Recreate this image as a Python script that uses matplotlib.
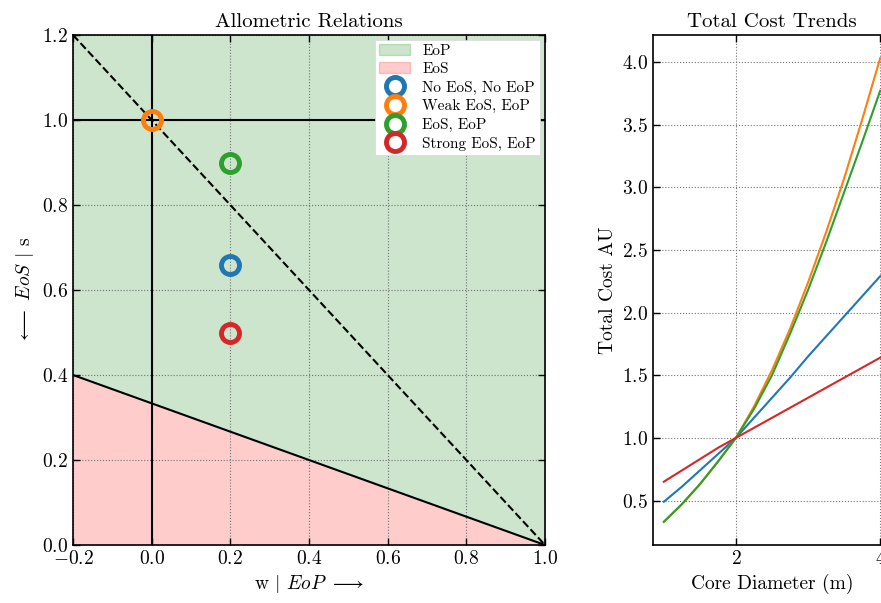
import numpy as np
import matplotlib
matplotlib.use("Agg")
import matplotlib.pyplot as plt
from matplotlib.patches import Patch
from matplotlib.lines import Line2D

plt.rcParams['font.family'] = 'serif'
plt.rcParams['font.serif'] = ['cmr10']
plt.rcParams['mathtext.fontset'] = 'cm'
plt.rcParams['axes.formatter.use_mathtext'] = True
plt.rcParams['axes.unicode_minus'] = True

# allometric points (w, s)
labels = ["No EoS, No EoP", "Weak EoS, EoP", "EoS, EoP", "Strong EoS, EoP"]
colors = ["tab:blue", "tab:orange", "tab:green", "tab:red"]
w_pts = [0.2, 0.0, 0.2, 0.2]
s_pts = [0.66, 1.0, 0.9, 0.5]

# boundary lines
w_line = [-0.2, 1.0]
eos_line = [0.4, 0.0]
dash_line = [1.2, 0.0]

# total cost curves
diam = [1.0, 1.25, 1.5, 1.75, 2.0, 2.25, 2.5, 2.75, 3.0, 3.25, 3.5, 3.75, 4.0]
cost_blue = [0.49, 0.61, 0.74, 0.87, 1.0, 1.16, 1.32, 1.48, 1.65, 1.81, 1.97, 2.13, 2.29]
cost_orange = [0.33, 0.47, 0.63, 0.81, 1.0, 1.25, 1.54, 1.87, 2.24, 2.64, 3.07, 3.54, 4.03]
cost_green = [0.33, 0.47, 0.63, 0.81, 1.0, 1.23, 1.50, 1.83, 2.18, 2.56, 2.96, 3.36, 3.77]
cost_red = [0.65, 0.74, 0.83, 0.92, 1.0, 1.08, 1.16, 1.24, 1.32, 1.40, 1.48, 1.56, 1.64]

fig = plt.figure(figsize=(8.81, 6.03), dpi=100)
ax1 = fig.add_axes([73/881, 1-545/603, 472/881, 510/603])
ax2 = fig.add_axes([653/881, 1-545/603, 238/881, 510/603])

for ax in (ax1, ax2):
    ax.tick_params(direction='in', top=True, right=True, labelsize=14, length=5, width=1)
    ax.grid(True, linestyle=':', color='0.45', lw=0.8)
    for sp in ax.spines.values():
        sp.set_linewidth(1.2)

# left panel
ax1.fill_between(w_line, eos_line, [1.2, 1.2], color='green', alpha=0.2, lw=0)
ax1.fill_between(w_line, [0, 0], eos_line, color='red', alpha=0.2, lw=0)
ax1.plot(w_line, eos_line, color='black', lw=1.5)
ax1.plot(w_line, dash_line, color='black', lw=1.5, ls='--')
ax1.axvline(0, color='black', lw=1.5)
ax1.axhline(1.0, color='black', lw=1.5)
for w, s, c in zip(w_pts, s_pts, colors):
    ax1.plot(w, s, 'o', mfc='none', mec=c, ms=13, mew=3.5, zorder=5)
ax1.set_xlim(-0.2, 1.0)
ax1.set_ylim(0, 1.2)
ax1.set_xticks(np.arange(-0.2, 1.01, 0.2))
ax1.set_yticks(np.arange(0, 1.21, 0.2))
ax1.set_title("Allometric Relations", fontsize=15)
ax1.set_xlabel(r"w $|$ $EoP$ $\longrightarrow$", fontsize=14)
ax1.set_ylabel(r"$\longleftarrow$ $EoS$ $|$ s", fontsize=14)

handles = [Patch(facecolor='green', alpha=0.2, edgecolor='green', label='EoP'),
           Patch(facecolor='red', alpha=0.2, edgecolor='red', label='EoS')]
for lab, c in zip(labels, colors):
    handles.append(Line2D([], [], ls='none', marker='o', mfc='none', mec=c, ms=13, mew=3.5, label=lab))
leg = ax1.legend(handles=handles, loc='upper right', fontsize=11, framealpha=1,
                 fancybox=False, edgecolor='0.85', borderaxespad=0.3, labelspacing=0.3,
                 borderpad=0.3)
leg.get_frame().set_linewidth(0.5)

# right panel
ax2.plot(diam, cost_blue, color='tab:blue', lw=1.5)
ax2.plot(diam, cost_orange, color='tab:orange', lw=1.5)
ax2.plot(diam, cost_green, color='tab:green', lw=1.5)
ax2.plot(diam, cost_red, color='tab:red', lw=1.5)
ax2.set_xlim(0.85, 4.15)
ax2.set_ylim(0.145, 4.215)
ax2.set_xticks([2, 4])
ax2.set_yticks(np.arange(0.5, 4.01, 0.5))
ax2.set_title("Total Cost Trends", fontsize=15)
ax2.set_xlabel("Core Diameter (m)", fontsize=14)
ax2.set_ylabel("Total Cost AU", fontsize=14)

fig.savefig("out.png", dpi=100)
